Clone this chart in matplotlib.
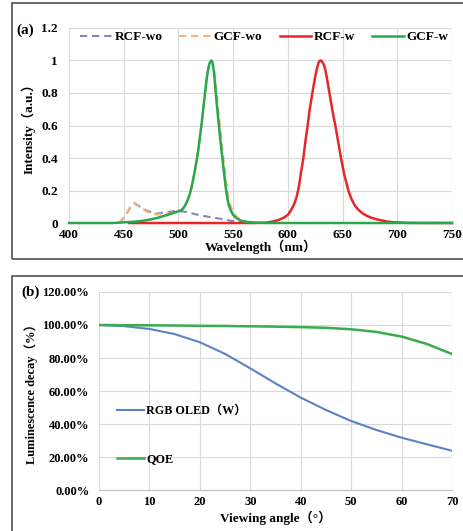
import matplotlib
matplotlib.use("Agg")
import matplotlib.pyplot as plt
from matplotlib.patches import Rectangle

plt.rcParams['font.family'] = ['Liberation Serif', 'Noto Sans CJK SC']
plt.rcParams['font.weight'] = 'bold'

# ---- panel (a): spectra ----
rcf_wo_x = [446, 452, 456, 460, 465, 471, 480, 489, 498, 507, 520, 535, 547, 556, 565, 575]
rcf_wo_y = [0, 0.05, 0.095, 0.12, 0.10, 0.076, 0.058, 0.066, 0.075, 0.068, 0.047, 0.030, 0.015, 0.005, 0.001, 0]

gcf_wo_x = [446, 452, 456, 460, 465, 470, 475, 480, 487, 493, 500, 503, 505, 507, 509, 510.5, 512,
            513.5, 515, 516.5, 518, 519.5, 521, 522.5, 524, 525.5, 527, 528.5, 530, 531, 532,
            533, 534, 535.5, 537, 538.5, 540, 541.5, 543, 544.5, 546, 548, 550, 553, 557, 562, 570, 580]
gcf_wo_y = [0, 0.05, 0.10, 0.125, 0.10, 0.075, 0.058, 0.052, 0.055, 0.062, 0.075, 0.082, 0.097,
            0.122, 0.152, 0.182, 0.222, 0.272, 0.322, 0.382, 0.442, 0.52, 0.60, 0.69, 0.78, 0.87,
            0.94, 0.985, 1.0, 0.995, 0.97, 0.93, 0.86, 0.76, 0.66, 0.565, 0.47, 0.38, 0.29,
            0.215, 0.15, 0.10, 0.07, 0.04, 0.02, 0.008, 0.002, 0]

rcf_w_x = [455, 570, 580, 587, 592, 596, 600, 603, 606, 608, 610, 612, 614.2, 616, 618.1, 620,
           622.4, 625, 626.5, 628, 629, 630, 631, 632.5, 634, 635.5, 638, 640.5, 643.4, 646,
           648.6, 651.5, 655.3, 658, 661, 664, 668, 672, 676, 681, 690, 696, 710, 750]
rcf_w_y = [0, 0, 0.002, 0.01, 0.02, 0.032, 0.05, 0.08, 0.12, 0.16, 0.22, 0.31, 0.40, 0.50, 0.60,
           0.70, 0.80, 0.90, 0.95, 0.985, 0.997, 1.0, 0.995, 0.98, 0.95, 0.90, 0.80, 0.70,
           0.60, 0.50, 0.40, 0.30, 0.20, 0.15, 0.11, 0.085, 0.06, 0.045, 0.033, 0.023, 0.01,
           0.005, 0.001, 0]

gcf_w_x = [400, 440, 450, 460, 470, 480, 490, 500, 503, 505, 507, 509, 510.5, 512, 513.5, 515,
           516.5, 518, 519.5, 521, 522.5, 524, 525.5, 527, 528.5, 530, 531, 532, 533, 534,
           535.5, 537, 538.5, 540, 541.5, 543, 544.5, 546, 548, 550, 553, 557, 562, 570, 580, 750]
gcf_w_y = [0, 0, 0.004, 0.008, 0.016, 0.03, 0.05, 0.072, 0.08, 0.095, 0.12, 0.15, 0.18, 0.22,
           0.27, 0.32, 0.38, 0.44, 0.52, 0.60, 0.69, 0.78, 0.87, 0.94, 0.985, 1.0, 0.99, 0.95,
           0.89, 0.81, 0.70, 0.60, 0.50, 0.41, 0.32, 0.23, 0.16, 0.11, 0.075, 0.05, 0.03,
           0.015, 0.007, 0.002, 0, 0]

a_xticks = [400, 450, 500, 550, 600, 650, 700, 750]
a_yticks = [0, 0.2, 0.4, 0.6, 0.8, 1.0, 1.2]
a_ylabels = ['0', '0.2', '0.4', '0.6', '0.8', '1', '1.2']

# ---- panel (b): angular decay ----
angle = [0, 5, 10, 15, 20, 25, 30, 35, 40, 45, 50, 55, 60, 65, 70]
rgb_oled = [100, 99.3, 97.6, 94.5, 89.5, 82.5, 73.7, 64.6, 56.0, 48.5, 41.8, 36.4, 31.7, 27.7, 23.8]
qoe = [100, 99.9, 99.8, 99.7, 99.5, 99.4, 99.2, 99.0, 98.7, 98.3, 97.4, 95.8, 93.0, 88.5, 82.4]

b_xticks = [0, 10, 20, 30, 40, 50, 60, 70]
b_yticks = [0, 20, 40, 60, 80, 100, 120]
b_ylabels = ['0.00%', '20.00%', '40.00%', '60.00%', '80.00%', '100.00%', '120.00%']

grid_c = '#d9d9d9'

fig = plt.figure(figsize=(4.64, 5.31), dpi=100)

# frames around each panel (run off the right/bottom edge like the scan)
fig.patches.append(Rectangle((0.0259, 0.5122), 1.1, 0.4822, transform=fig.transFigure,
                             fill=False, edgecolor='#505050', linewidth=1.2))
fig.patches.append(Rectangle((0.0259, -0.1), 1.1, 0.5793, transform=fig.transFigure,
                             fill=False, edgecolor='#505050', linewidth=1.2))

ax1 = fig.add_axes([0.1487, 0.58, 0.8254, 0.3673])
ax1.plot(rcf_wo_x, rcf_wo_y, color='#8585bf', lw=1.5, dashes=(3.5, 2.3), label='RCF-wo', clip_on=False)
ax1.plot(gcf_wo_x, gcf_wo_y, color='#f5b27e', lw=1.5, dashes=(3.5, 2.3), label='GCF-wo', clip_on=False)
ax1.plot(rcf_w_x, rcf_w_y, color='#e8262a', lw=1.8, label='RCF-w', clip_on=False)
ax1.plot(gcf_w_x, gcf_w_y, color='#27a84a', lw=1.8, label='GCF-w', clip_on=False)
ax1.set_xlim(400, 750)
ax1.set_ylim(0, 1.2)
ax1.set_xticks(a_xticks)
ax1.set_yticks(a_yticks)
ax1.set_yticklabels(a_ylabels)
ax1.grid(True, color=grid_c, lw=0.8)
ax1.set_axisbelow(True)
for s in ax1.spines.values():
    s.set_visible(False)
ax1.tick_params(length=0, labelsize=9.5)
ax1.tick_params(axis='y', pad=8)
ax1.tick_params(axis='x', pad=4)
for lab in ax1.get_xticklabels() + ax1.get_yticklabels():
    lab.set_fontweight('bold')
ax1.set_xlabel('Wavelength（nm）', fontsize=9.5, fontweight='bold', labelpad=-1)
ax1.set_ylabel('Intensity（a.u.）', fontsize=9.5, fontweight='bold', labelpad=4)
ax1.legend(loc='upper center', bbox_to_anchor=(0.51, 1.045), ncol=4, frameon=False,
           handlelength=2.4, handletextpad=0.2, columnspacing=1.3,
           prop={'weight': 'bold', 'size': 9.5})
fig.text(0.035, 0.943, '(a)', fontsize=11, fontweight='bold', va='center')

ax2 = fig.add_axes([0.2134, 0.0772, 0.7608, 0.3729])
ax2.plot(angle, rgb_oled, color='#5b83c4', lw=1.5, label='RGB OLED（W）')
ax2.plot(angle, qoe, color='#3aab4f', lw=1.8, label='QOE')
ax2.set_xlim(0, 70)
ax2.set_ylim(0, 120)
ax2.set_xticks(b_xticks)
ax2.set_yticks(b_yticks)
ax2.set_yticklabels(b_ylabels)
ax2.grid(True, color=grid_c, lw=0.8)
ax2.set_axisbelow(True)
for s in ax2.spines.values():
    s.set_visible(False)
ax2.spines['bottom'].set_visible(True)
ax2.spines['bottom'].set_color('#bfbfbf')
ax2.tick_params(length=0, labelsize=9)
ax2.tick_params(axis='y', pad=7)
ax2.tick_params(axis='x', pad=4)
for lab in ax2.get_xticklabels() + ax2.get_yticklabels():
    lab.set_fontweight('bold')
ax2.set_xlabel('Viewing angle（°）', fontsize=9.5, fontweight='bold', labelpad=2)
ax2.set_ylabel('Luminescence decay（%）', fontsize=9, fontweight='bold', labelpad=3)
ax2.legend(loc='lower left', bbox_to_anchor=(0.02, 0.07), frameon=False,
           handlelength=2.2, handletextpad=0.2, labelspacing=3.0,
           prop={'weight': 'bold', 'size': 8.7})
fig.text(0.045, 0.449, '(b)', fontsize=11, fontweight='bold', va='center')

fig.savefig('out.png', dpi=100)
